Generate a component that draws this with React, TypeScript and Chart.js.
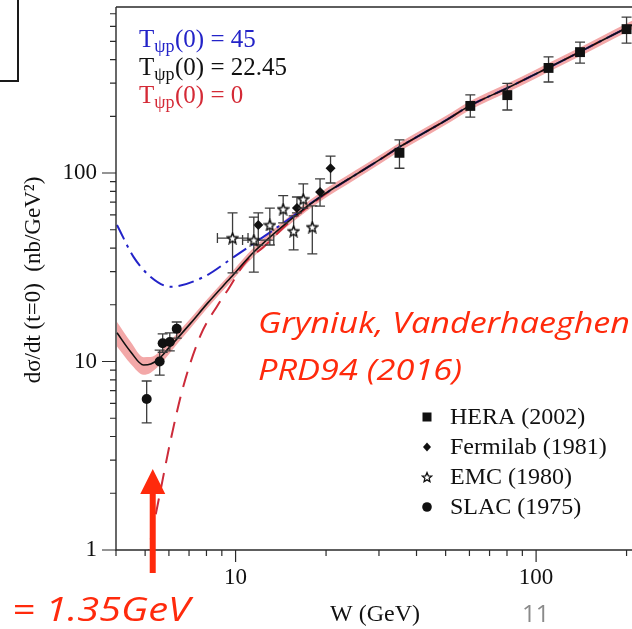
import React, { useEffect, useRef } from 'react';
import { Chart, registerables } from 'chart.js';

Chart.register(...registerables);

// ---------- data ----------
const W_T22 = [4.03, 4.48, 4.94, 5.22, 5.59, 5.99, 6.37, 7.09, 8.07, 9.62, 11.5, 15.6, 19.1, 25, 30, 35, 40, 50, 60, 80, 100, 130, 160, 210];
const T_22 = [14.2, 11.24, 9.58, 9.69, 10.43, 11.78, 13.15, 15.98, 20.4, 27.8, 38.1, 58.4, 74.6, 97.6, 117, 137, 155, 190, 227, 282, 336, 414, 491, 612];
const BAND_HI = [16.2, 12.7, 10.55, 10.56, 11.26, 12.6, 14.0, 16.94, 21.5, 29.3, 40.2, 61.6, 78.7, 103, 123.4, 144.5, 163.5, 200.5, 239.5, 297.5, 354.5, 436.8, 518, 645.7];
const BAND_LO = [12.0, 9.7, 8.5, 8.73, 9.57, 10.9, 12.3, 15.08, 19.3, 26.35, 36.1, 55.4, 70.7, 92.5, 110.9, 129.9, 146.9, 180.1, 215.2, 267.3, 318.5, 392.4, 465.4, 580.1];
const W_T45 = [4.03, 4.58, 5.22, 6.08, 7.83, 9.85, 13.37, 19.1, 25, 30, 35, 40, 50, 60, 80, 100, 130, 160, 210];
const T_45 = [53.0, 35.8, 28.1, 24.9, 28.1, 35.8, 49.9, 74.6, 97.6, 117, 137, 155, 190, 227, 282, 336, 414, 491, 612];
const W_T0 = [5.03, 5.14, 5.63, 6.08, 6.72, 7.65, 8.72, 9.41, 10.8, 12.4, 15.0, 19.1, 25, 30, 35, 40, 50, 60, 80, 100, 130, 160, 210];
const T_0 = [0.83, 1.0, 2.08, 3.83, 7.51, 13.8, 19.9, 23.9, 33.7, 40.5, 54.4, 73.7, 97.6, 117, 137, 155, 190, 227, 282, 336, 414, 491, 612];

const HERA_W = [35.1, 60.4, 80.2, 110, 140, 200];
const HERA_Y = [128, 227, 259, 361, 438, 580];
const HERA_LO = [106, 198, 216, 304, 383, 489];
const HERA_HI = [150, 260, 299, 413, 495, 672];

const FERMI_W = [11.9, 16.0, 19.1, 20.7];
const FERMI_Y = [53, 65.2, 79.3, 106];
const FERMI_LO = [41.5, 61.5, 66.8, 88.5];
const FERMI_HI = [61.5, 74.6, 93, 123];

const EMC_W = [9.77, 11.5, 13.0, 14.4, 15.6, 16.8, 18.0];
const EMC_Y = [45.2, 44.1, 53, 64.4, 49.2, 72.8, 51.7];
const EMC_LO = [29.5, 29.8, 41.5, 54.4, 39.1, 65.2, 37.2];
const EMC_HI = [61.5, 58.4, 65.2, 75.8, 59.2, 87.6, 66.9];
const EMC_WLO = [8.7, 10.55, 13.0, 14.4, 15.6, 16.8, 18.0];
const EMC_WHI = [11.0, 13.4, 13.0, 14.4, 15.6, 16.8, 18.0];

const SLAC_W = [5.06, 5.59, 5.72, 6.04, 6.37];
const SLAC_Y = [6.32, 10.0, 12.5, 12.7, 14.9];
const SLAC_LO = [4.72, 8.47, 11.2, 11.4, 13.3];
const SLAC_HI = [7.88, 11.5, 14.0, 14.2, 16.2];

const X_TICKS = [4, 5, 6, 7, 8, 9, 10, 20, 30, 40, 50, 60, 70, 80, 90, 100, 200];
const X_LABELS = [10, 100];
const Y_TICKS = [1, 2, 3, 4, 5, 6, 7, 8, 9, 10, 20, 30, 40, 50, 60, 70, 80, 90, 100, 200, 300, 400, 500, 600, 700];
const Y_LABELS = [1, 10, 100];

const CURVE_LABELS = ['45', '22.45', '0'];
const LEGEND_LABELS = ['HERA (2002)', 'Fermilab (1981)', 'EMC (1980)', 'SLAC (1975)'];
const ARROW_W = 5.3;

const SERIF = '"Liberation Serif", "Times New Roman", serif';
const SANS = '"Open Sans", "Liberation Sans", sans-serif';
const RED_TXT = '#ff2a0c';

const pts = (xs: number[], ys: number[]) => xs.map((x, i) => ({ x, y: ys[i] }));

function makeStar(size: number, lw: number): HTMLCanvasElement {
  const c = document.createElement('canvas');
  c.width = size;
  c.height = size;
  const ctx = c.getContext('2d')!;
  const cx = size / 2, cy = size / 2 + 0.6;
  const R = size / 2 - 1, r = R * 0.45;
  ctx.beginPath();
  for (let i = 0; i < 10; i++) {
    const a = -Math.PI / 2 + (i * Math.PI) / 5;
    const rad = i % 2 === 0 ? R : r;
    ctx.lineTo(cx + rad * Math.cos(a), cy + rad * Math.sin(a));
  }
  ctx.closePath();
  ctx.fillStyle = '#fff';
  ctx.fill();
  ctx.lineWidth = lw;
  ctx.strokeStyle = '#111';
  ctx.stroke();
  return c;
}

const errorBarPlugin = {
  id: 'errbars',
  beforeDatasetDraw(chart: any, args: any) {
    const ds = chart.data.datasets[args.index];
    if (!ds.errLo) return;
    const { ctx } = chart;
    const xs = chart.scales.x, ys = chart.scales.y;
    ctx.save();
    ctx.strokeStyle = '#3c3c3c';
    ctx.lineWidth = 1.3;
    ds.data.forEach((p: any, i: number) => {
      const px = xs.getPixelForValue(p.x);
      const py = ys.getPixelForValue(p.y);
      const y0 = ys.getPixelForValue(ds.errLo[i]);
      const y1 = ys.getPixelForValue(ds.errHi[i]);
      ctx.beginPath();
      ctx.moveTo(px, y0); ctx.lineTo(px, y1);
      ctx.moveTo(px - 5, y0); ctx.lineTo(px + 5, y0);
      ctx.moveTo(px - 5, y1); ctx.lineTo(px + 5, y1);
      if (ds.wLo && ds.wLo[i] !== ds.wHi[i]) {
        const x0 = xs.getPixelForValue(ds.wLo[i]);
        const x1 = xs.getPixelForValue(ds.wHi[i]);
        ctx.moveTo(x0, py); ctx.lineTo(x1, py);
        ctx.moveTo(x0, py - 5); ctx.lineTo(x0, py + 5);
        ctx.moveTo(x1, py - 5); ctx.lineTo(x1, py + 5);
      }
      ctx.stroke();
    });
    ctx.restore();
  },
};

const axesPlugin = {
  id: 'axesframe',
  afterDatasetsDraw(chart: any) {
    const { ctx, chartArea } = chart;
    const xs = chart.scales.x, ys = chart.scales.y;
    ctx.save();
    ctx.strokeStyle = '#2a2a2a';
    ctx.lineWidth = 1.4;
    ctx.beginPath();
    ctx.moveTo(chartArea.left, chartArea.top);
    ctx.lineTo(chartArea.right + 2, chartArea.top);
    ctx.moveTo(chartArea.left, chartArea.top);
    ctx.lineTo(chartArea.left, chartArea.bottom);
    ctx.lineTo(chartArea.right + 2, chartArea.bottom);
    ctx.stroke();
    ctx.lineWidth = 1.2;
    ctx.beginPath();
    X_TICKS.forEach((v) => {
      const px = xs.getPixelForValue(v);
      const major = X_LABELS.includes(v);
      ctx.moveTo(px, chartArea.bottom);
      ctx.lineTo(px, chartArea.bottom + (major ? 12 : 6));
    });
    Y_TICKS.forEach((v) => {
      const py = ys.getPixelForValue(v);
      const major = Y_LABELS.includes(v);
      ctx.moveTo(chartArea.left, py);
      ctx.lineTo(chartArea.left - (major ? 14 : 6), py);
    });
    ctx.stroke();
    ctx.restore();
  },
};

function drawTLabel(ctx: CanvasRenderingContext2D, x: number, y: number, val: string, color: string) {
  ctx.fillStyle = color;
  ctx.textAlign = 'left';
  ctx.textBaseline = 'alphabetic';
  ctx.font = `25px ${SERIF}`;
  ctx.fillText('T', x, y);
  let cx = x + ctx.measureText('T').width;
  ctx.font = `18px ${SERIF}`;
  ctx.fillText('\u03c8p', cx, y + 5);
  cx += ctx.measureText('\u03c8p').width + 0.5;
  ctx.font = `25px ${SERIF}`;
  ctx.fillText(`(0) = ${val}`, cx, y);
}

function fitText(ctx: CanvasRenderingContext2D, text: string, x: number, y: number, width: number) {
  const w = ctx.measureText(text).width;
  ctx.save();
  ctx.translate(x, y);
  ctx.scale(width / w, 1);
  ctx.fillText(text, 0, 0);
  ctx.restore();
}

const annotPlugin = {
  id: 'annot',
  afterDraw(chart: any) {
    const { ctx } = chart;
    const xs = chart.scales.x;
    ctx.save();
    // curve legend
    drawTLabel(ctx, 139, 47, CURVE_LABELS[0], '#2323c8');
    drawTLabel(ctx, 139, 75, CURVE_LABELS[1], '#111111');
    drawTLabel(ctx, 139, 103, CURVE_LABELS[2], '#d42a36');

    // reference text
    ctx.fillStyle = RED_TXT;
    ctx.textAlign = 'left';
    ctx.textBaseline = 'alphabetic';
    ctx.font = `italic 30px ${SANS}`;
    fitText(ctx, 'Gryniuk, Vanderhaeghen', 258, 333, 372);
    fitText(ctx, 'PRD94 (2016)', 258, 380, 204);
    ctx.font = `italic 32px ${SANS}`;
    fitText(ctx, '= 1.35GeV', 12, 621, 178);

    // arrow
    const ax = xs.getPixelForValue(ARROW_W);
    ctx.fillStyle = RED_TXT;
    ctx.fillRect(ax - 3, 490, 6, 83);
    ctx.beginPath();
    ctx.moveTo(ax - 12.5, 494);
    ctx.lineTo(ax + 12.5, 494);
    ctx.lineTo(ax, 469);
    ctx.closePath();
    ctx.fill();

    // axis titles
    ctx.fillStyle = '#111';
    ctx.font = `24px ${SERIF}`;
    ctx.textAlign = 'left';
    ctx.fillText('W (GeV)', 330, 621);
    ctx.save();
    ctx.translate(34, 280);
    ctx.rotate(-Math.PI / 2);
    ctx.textAlign = 'center';
    ctx.textBaseline = 'middle';
    ctx.font = `23px ${SERIF}`;
    ctx.fillText('d\u03c3/dt (t=0)  (nb/GeV\u00b2)', 0, 0);
    ctx.restore();

    // page number
    ctx.fillStyle = '#8a8a8a';
    ctx.font = `24px ${SANS}`;
    ctx.textBaseline = 'alphabetic';
    ctx.fillText('11', 522, 622);

    // marker legend
    const lx = 427;
    const rows = [417, 447, 477, 507];
    ctx.fillStyle = '#111';
    ctx.fillRect(lx - 4.5, rows[0] - 4.5, 9, 9);
    ctx.beginPath();
    ctx.moveTo(lx, rows[1] - 4.5); ctx.lineTo(lx + 4, rows[1]);
    ctx.lineTo(lx, rows[1] + 4.5); ctx.lineTo(lx - 4, rows[1]);
    ctx.closePath(); ctx.fill();
    const st = makeStar(12, 1.3);
    ctx.drawImage(st, lx - 6, rows[2] - 6);
    ctx.beginPath();
    ctx.arc(lx, rows[3], 4.8, 0, Math.PI * 2);
    ctx.fill();
    ctx.font = `24px ${SERIF}`;
    ctx.textBaseline = 'middle';
    LEGEND_LABELS.forEach((t, i) => ctx.fillText(t, 450, rows[i] + 1));
    ctx.restore();
  },
};

const zeroPad = (s: any) => {
  s.paddingTop = 0;
  s.paddingBottom = 0;
  s.paddingLeft = 0;
  s.paddingRight = 0;
};

export default function App() {
  const ref = useRef<HTMLCanvasElement>(null);
  useEffect(() => {
    if (!ref.current) return;
    const star = makeStar(13, 1.5);
    const chart = new Chart(ref.current, {
      type: 'scatter',
      data: {
        datasets: [
          { label: 'SLAC (1975)', data: pts(SLAC_W, SLAC_Y), pointStyle: 'circle', pointRadius: 5, backgroundColor: '#111', borderColor: '#111', borderWidth: 0, errLo: SLAC_LO, errHi: SLAC_HI } as any,
          { label: 'EMC (1980)', data: pts(EMC_W, EMC_Y), pointStyle: star, pointRadius: 6, errLo: EMC_LO, errHi: EMC_HI, wLo: EMC_WLO, wHi: EMC_WHI } as any,
          { label: 'Fermilab (1981)', data: pts(FERMI_W, FERMI_Y), pointStyle: 'rectRot', pointRadius: 5, backgroundColor: '#111', borderColor: '#111', borderWidth: 0, errLo: FERMI_LO, errHi: FERMI_HI } as any,
          { label: 'HERA (2002)', data: pts(HERA_W, HERA_Y), pointStyle: 'rect', pointRadius: 7, backgroundColor: '#111', borderColor: '#111', borderWidth: 0, errLo: HERA_LO, errHi: HERA_HI } as any,
          { type: 'line', label: 'T=22.45', data: pts(W_T22, T_22), borderColor: '#111', borderWidth: 1.6, pointRadius: 0, cubicInterpolationMode: 'monotone', fill: false } as any,
          { type: 'line', label: 'T=45', data: pts(W_T45, T_45), borderColor: '#2323c8', borderWidth: 2, borderDash: [16, 6, 3, 6], pointRadius: 0, cubicInterpolationMode: 'monotone', fill: false } as any,
          { type: 'line', label: 'T=0', data: pts(W_T0, T_0), borderColor: '#cc2b3a', borderWidth: 2, borderDash: [16, 10], pointRadius: 0, cubicInterpolationMode: 'monotone', fill: false } as any,
          { type: 'line', label: 'band hi', data: pts(W_T22, BAND_HI), borderWidth: 0, borderColor: 'rgba(0,0,0,0)', backgroundColor: '#f3a8a8', pointRadius: 0, cubicInterpolationMode: 'monotone', fill: '+1' } as any,
          { type: 'line', label: 'band lo', data: pts(W_T22, BAND_LO), borderWidth: 0, borderColor: 'rgba(0,0,0,0)', pointRadius: 0, cubicInterpolationMode: 'monotone', fill: false } as any,
        ],
      },
      options: {
        animation: false,
        responsive: false,
        devicePixelRatio: 1,
        layout: { autoPadding: false, padding: { top: 7, left: 0, right: 0, bottom: 0 } },
        plugins: { legend: { display: false }, tooltip: { enabled: false } },
        scales: {
          x: {
            type: 'logarithmic',
            min: 4,
            max: 208.5,
            position: 'bottom',
            afterBuildTicks: (s: any) => { s.ticks = X_TICKS.map((v) => ({ value: v })); },
            afterFit: (s: any) => { s.height = 79; zeroPad(s); },
            grid: { display: false, drawTicks: false },
            border: { display: false },
            ticks: {
              autoSkip: false, maxRotation: 0, padding: 14, color: '#111',
              font: { family: SERIF, size: 23 },
              callback: (v: any) => (X_LABELS.includes(Number(v)) ? String(v) : ''),
            },
          },
          y: {
            type: 'logarithmic',
            min: 1,
            max: 760,
            position: 'left',
            afterBuildTicks: (s: any) => { s.ticks = Y_TICKS.map((v) => ({ value: v })); },
            afterFit: (s: any) => { s.width = 116; zeroPad(s); },
            grid: { display: false, drawTicks: false },
            border: { display: false },
            ticks: {
              autoSkip: false, padding: 19, color: '#111',
              font: { family: SERIF, size: 23 },
              callback: (v: any) => (Y_LABELS.includes(Number(v)) ? String(v) : ''),
            },
          },
        },
      } as any,
      plugins: [errorBarPlugin, axesPlugin, annotPlugin],
    });
    return () => chart.destroy();
  }, []);

  return (
    <div style={{ position: 'absolute', left: 0, top: 0, width: 632, height: 629, overflow: 'hidden', background: '#fff' }}>
      <canvas ref={ref} width={632} height={629} style={{ position: 'absolute', left: 0, top: 0 }} />
      <div style={{ position: 'absolute', left: -10, top: -10, width: 29, height: 92, boxSizing: 'border-box', border: '2px solid #1a1a1a' }} />
    </div>
  );
}
